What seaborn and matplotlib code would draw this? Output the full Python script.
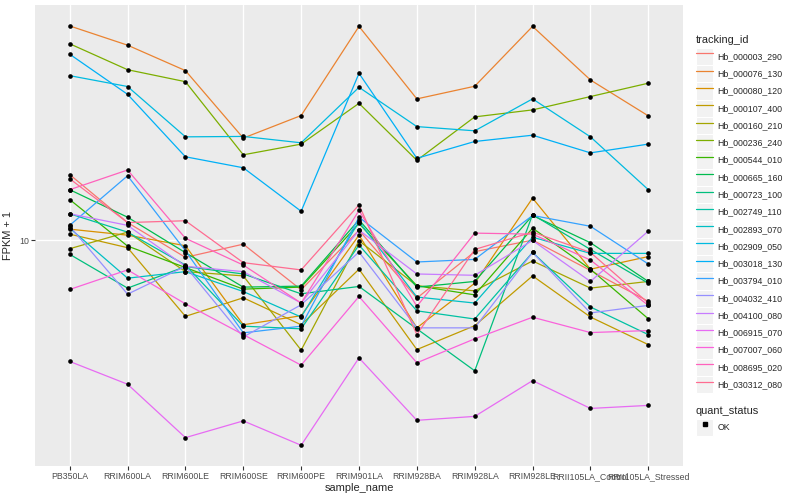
import matplotlib
matplotlib.use("Agg")
import matplotlib.pyplot as plt
from matplotlib.lines import Line2D
from matplotlib.patches import Rectangle
from matplotlib.legend_handler import HandlerLine2D
import seaborn as sns
import pandas as pd

# samples on the x axis
samples = ["PB350LA", "RRIM600LA", "RRIM600LE", "RRIM600SE", "RRIM600PE", "RRIM901LA",
           "RRIM928BA", "RRIM928LA", "RRIM928LE", "RRII105LA_Control", "RRII105LA_Stressed"]

tracking_ids = ["Hb_000003_290", "Hb_000076_130", "Hb_000080_120", "Hb_000107_400",
                "Hb_000160_210", "Hb_000236_240", "Hb_000544_010", "Hb_000665_160",
                "Hb_000723_100", "Hb_002749_110", "Hb_002893_070", "Hb_002909_050",
                "Hb_003018_130", "Hb_003794_010", "Hb_004032_410", "Hb_004100_080",
                "Hb_006915_070", "Hb_007007_060", "Hb_008695_020", "Hb_030312_080"]

# ggplot default hue palette for 20 levels
colors = ["#F8766D", "#EA8331", "#D89000", "#C09B00", "#A3A500", "#7CAE00", "#39B600",
          "#00BB4E", "#00BF7D", "#00C1A3", "#00BFC4", "#00BAE0", "#00B0F6", "#35A2FF",
          "#9590FF", "#C77CFF", "#E76BF3", "#FA62DB", "#FF62BC", "#FF6C91"]

# FPKM + 1 per gene, in sample order
hb_000003_290 = [18.4, 11.8, 8.55, 9.66, 6.33, 11.0, 5.86, 9.01, 10.03, 7.57, 5.69]
hb_000076_130 = [72.9, 61.0, 48.2, 25.8, 31.8, 72.6, 37.1, 41.7, 72.6, 44.2, 31.7]
hb_000080_120 = [11.1, 10.5, 9.52, 4.58, 4.98, 10.5, 4.45, 6.73, 14.8, 7.66, 8.61]
hb_000107_400 = [10.6, 9.35, 4.95, 5.88, 4.58, 7.66, 3.64, 4.54, 7.20, 4.92, 3.81]
hb_000160_210 = [9.26, 10.8, 7.49, 7.20, 3.62, 9.97, 6.57, 6.27, 8.27, 6.43, 6.84]
hb_000236_240 = [61.8, 48.6, 43.5, 22.1, 24.4, 35.6, 21.0, 31.4, 33.5, 37.9, 42.9]
hb_000544_010 = [14.6, 9.49, 7.78, 6.37, 6.49, 11.7, 6.57, 6.04, 11.2, 7.66, 4.84]
hb_000665_160 = [16.0, 12.4, 8.93, 6.49, 6.55, 12.1, 6.49, 6.84, 12.6, 9.79, 6.84]
hb_000723_100 = [8.79, 6.43, 7.85, 7.33, 6.10, 6.53, 4.41, 2.99, 12.7, 9.20, 6.73]
hb_002749_110 = [12.8, 10.8, 7.96, 4.52, 4.41, 9.58, 5.21, 4.83, 8.95, 5.40, 4.18]
hb_002893_070 = [11.2, 7.05, 7.49, 6.23, 4.92, 11.9, 5.92, 5.60, 10.3, 8.87, 8.87]
hb_002909_050 = [46.0, 41.6, 26.1, 26.2, 24.7, 41.3, 28.7, 27.6, 37.1, 26.1, 16.0]
hb_003018_130 = [56.1, 38.7, 21.7, 19.6, 13.1, 47.0, 21.4, 25.0, 26.5, 22.5, 24.4]
hb_003794_010 = [11.5, 18.2, 9.09, 4.25, 4.52, 12.4, 8.19, 8.39, 12.6, 11.4, 8.04]
hb_004032_410 = [11.4, 6.08, 7.87, 4.09, 5.51, 8.98, 4.45, 4.45, 8.95, 5.11, 5.48]
hb_004100_080 = [12.8, 11.5, 7.87, 7.49, 5.60, 11.0, 7.33, 7.24, 10.0, 6.84, 10.9]
hb_006915_070 = [3.26, 2.64, 1.61, 1.88, 1.50, 3.37, 1.89, 1.96, 2.73, 2.11, 2.17]
hb_007007_060 = [6.35, 7.61, 5.56, 4.18, 3.15, 5.95, 3.22, 4.02, 4.91, 4.26, 4.34]
hb_008695_020 = [16.0, 19.2, 10.2, 7.96, 5.60, 13.2, 5.43, 10.7, 10.6, 8.34, 5.48]
hb_030312_080 = [17.7, 11.8, 12.0, 8.14, 7.61, 13.9, 4.18, 9.20, 10.8, 8.95, 5.60]

series = [hb_000003_290, hb_000076_130, hb_000080_120, hb_000107_400, hb_000160_210,
          hb_000236_240, hb_000544_010, hb_000665_160, hb_000723_100, hb_002749_110,
          hb_002893_070, hb_002909_050, hb_003018_130, hb_003794_010, hb_004032_410,
          hb_004100_080, hb_006915_070, hb_007007_060, hb_008695_020, hb_030312_080]

rows = []
for tid, vals in zip(tracking_ids, series):
    for s, v in zip(samples, vals):
        rows.append({"tracking_id": tid, "sample_name": s, "fpkm": v, "quant_status": "OK"})
df = pd.DataFrame(rows)

sns.set_theme(style="darkgrid", rc={
    "axes.facecolor": "#EBEBEB",
    "grid.color": "white",
    "grid.linewidth": 1.0,
})
plt.rcParams["font.family"] = ["Liberation Sans", "DejaVu Sans"]

fig = plt.figure(figsize=(8, 5), dpi=100)
ax = fig.add_axes([35 / 800, 34 / 500, 648 / 800, 461 / 500])

palette = dict(zip(tracking_ids, colors))
sns.lineplot(data=df, x="sample_name", y="fpkm", hue="tracking_id", palette=palette,
             estimator=None, sort=False, linewidth=0.9, legend=False, ax=ax)
sns.scatterplot(data=df, x="sample_name", y="fpkm", color="black", s=11,
                linewidth=0, legend=False, ax=ax, zorder=5)

ax.set_yscale("log")
ax.set_ylim(1.238, 88.5)
ax.set_xlim(-0.6, len(samples) - 0.4)
ax.set_yticks([10])
ax.set_yticklabels(["10"])
ax.yaxis.set_minor_locator(matplotlib.ticker.NullLocator())
for sp in ax.spines.values():
    sp.set_visible(False)
ax.grid(True, which="major", color="white", linewidth=1.0)
ax.tick_params(axis="both", bottom=True, left=True, length=3, width=0.8,
               color="#333333", labelcolor="#4D4D4D", labelsize=6.3, pad=1.5)
ax.set_xlabel("sample_name", fontsize=7.9, labelpad=1)
ax.set_ylabel("FPKM + 1", fontsize=7.9, labelpad=4)


class KeyHandler(HandlerLine2D):
    # draw the grey ggplot key square behind each legend entry
    def create_artists(self, legend, orig_handle, xdescent, ydescent, width, height, fontsize, trans):
        bg = Rectangle((-xdescent, -ydescent), width, height, facecolor="#F2F2F2",
                       edgecolor="white", linewidth=0.8, transform=trans)
        arts = super().create_artists(legend, orig_handle, xdescent, ydescent, width, height, fontsize, trans)
        return [bg] + list(arts)


line_handles = [Line2D([0], [0], color=c, linewidth=0.9) for c in colors]
kw = dict(frameon=False, loc="upper left", fontsize=6.3, title_fontproperties={"size": 7.9},
          alignment="left", handlelength=1.98, handleheight=2.66, labelspacing=0.0,
          handletextpad=0.45, borderpad=0, borderaxespad=0)
leg1 = fig.legend(line_handles, tracking_ids, title="tracking_id",
                  bbox_to_anchor=(696 / 800, 1 - 35 / 500),
                  handler_map={Line2D: KeyHandler()}, **kw)
leg1._legend_box.sep = 2

pt_handle = [Line2D([0], [0], marker="s", color="black", linestyle="none", markersize=2.5)]
leg2 = fig.legend(pt_handle, ["OK"], title="quant_status",
                  bbox_to_anchor=(696 / 800, 1 - 406 / 500),
                  handler_map={Line2D: KeyHandler(numpoints=1)}, **kw)
leg2._legend_box.sep = 2

fig.savefig("out.png", dpi=100)
